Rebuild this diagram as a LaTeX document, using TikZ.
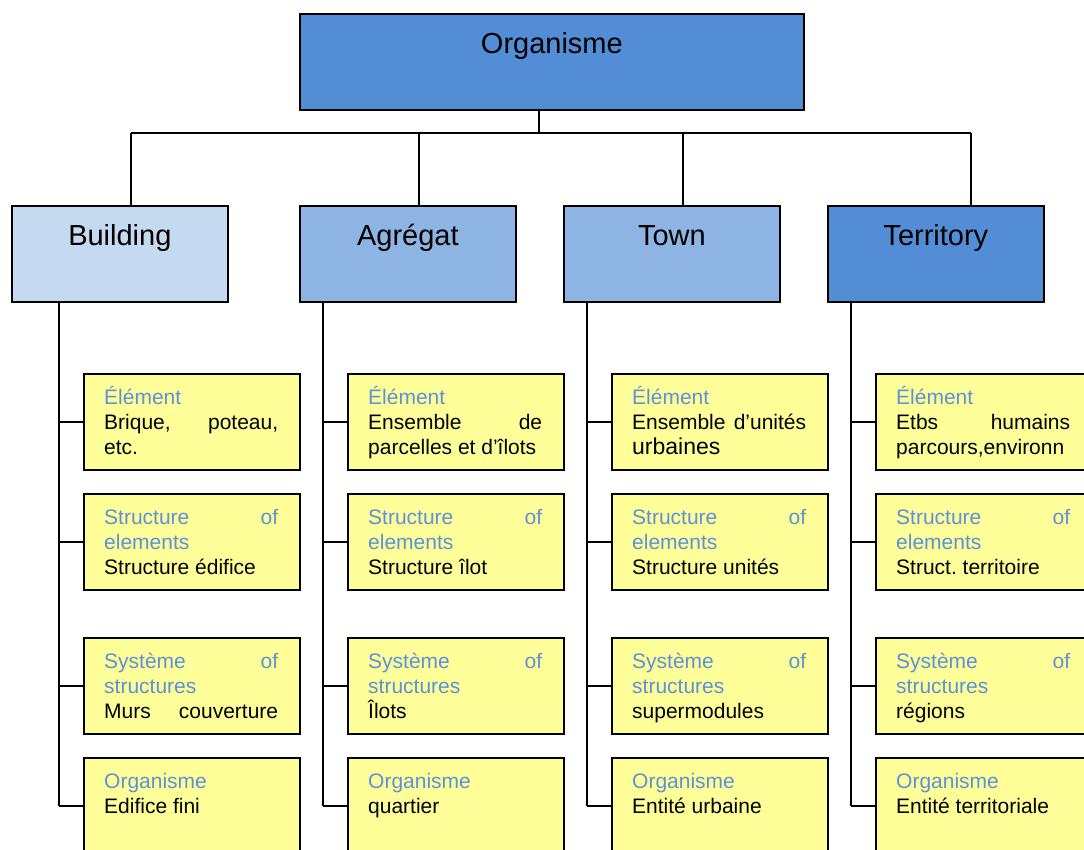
\documentclass[tikz,border=0pt]{standalone}
\usepackage{fontspec}
\setmainfont{Liberation Sans}
\usetikzlibrary{positioning}
\definecolor{bleufonce}{RGB}{83,141,213}
\definecolor{bleumoyen}{RGB}{141,180,226}
\definecolor{bleupale}{RGB}{197,217,241}
\definecolor{jaunepale}{RGB}{255,255,153}
\definecolor{bleutexte}{RGB}{91,146,216}
\frenchspacing

\tikzset{
  tete/.style={draw=black, line width=1.7pt, anchor=north west, inner sep=0pt,
    minimum width=216pt, minimum height=96pt, text height=40pt, text depth=56pt,
    font=\fontsize{29}{34}\selectfont},
  fiche/.style={draw=black, fill=jaunepale, line width=1.7pt, anchor=north west,
    inner sep=0pt, minimum width=216pt, minimum height=96pt},
  texte/.style={inner sep=0pt, text width=174pt, align=justify,
    font=\fontsize{21}{25}\selectfont,
    execute at begin node={\parindent=0pt\hyphenpenalty=10000\exhyphenpenalty=10000\tolerance=10000\rule{0pt}{20pt}}},
  lien/.style={draw=black, line width=1.7pt}
}

\begin{document}
\begin{tikzpicture}[x=1pt,y=-1pt]
\useasboundingbox (0,0) rectangle (1084,850);
\clip (0,0) rectangle (1084,850);

\node[tete, minimum width=504pt, fill=bleufonce] (organisme) at (299,13) {Organisme};
\coordinate (tronc) at (539,133);
\draw[lien] (organisme.south -| tronc) -- (tronc);

% columns: box, drop, vertical line and the four yellow cards
\foreach \c/\nom/\titre/\couleur/\bx/\dx/\lx in {
  1/building/Building/bleupale/11/131/59,
  2/agregat/Agrégat/bleumoyen/299/419/323,
  3/town/Town/bleumoyen/563/683/587,
  4/territory/Territory/bleufonce/827/971/851%
} {
  \node[tete, fill=\couleur] (\nom) at (\bx,205) {\titre};
  \coordinate (d\c) at (\dx,133);
  \coordinate (v\c) at (\lx,301);
  \draw[lien] (d\c) -- (d\c |- \nom.north);
  \foreach \r/\y in {1/373,2/493,3/637,4/757} {
    \node[fiche] (b-\c-\r) at (\lx+24,\y) {};
    \draw[lien] (v\c |- b-\c-\r.west) -- (b-\c-\r.west);
  }
  \draw[lien] (\nom.south -| v\c) -- (v\c |- b-\c-4.west);
}
\draw[lien] (d1) -- (d4);

% card texts
\foreach \r/\lab/\textes in {
  1/{Élément}/{{Brique, poteau, etc.},{Ensemble de parcelles et d’îlots},{Ensemble d’unités {\fontsize{23}{25}\selectfont urbaines}},{Etbs humains parcours,environn}},
  2/{Structure of elements}/{{Structure édifice},{Structure îlot},{Structure unités},{Struct. territoire}},
  3/{Système of structures}/{{Murs\hfill couverture},{Îlots},{supermodules},{régions}},
  4/{Organisme}/{{Edifice fini},{quartier},{Entité urbaine},{Entité territoriale}}} {
  \foreach \corps [count=\c] in \textes {
    \node[texte, below right=11pt and 21pt of b-\c-\r.north west] (t-\c-\r)
      {\textcolor{bleutexte}{\lab}\par \corps};
  }
}
\end{tikzpicture}
\end{document}
